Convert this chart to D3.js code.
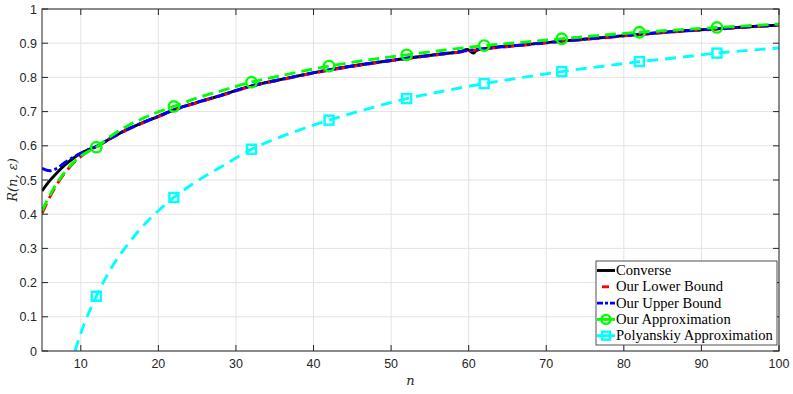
<!DOCTYPE html>
<html>
<head>
<meta charset="utf-8">
<script src="https://cdn.jsdelivr.net/npm/d3@7"></script>
<style>
  html, body { margin: 0; padding: 0; background: #fff; }
  svg { display: block; }
</style>
</head>
<body>
<svg id="chart" width="793" height="394"></svg>
<script>
// ── Datos ──
const nConverse = [5, 6, 7, 8, 9, 10, 11, 12, 14, 16, 18, 20, 22, 25, 28, 32, 36, 42, 47, 52, 57, 59, 59.8, 60.6, 61, 62, 67, 72, 77, 82, 87, 92, 96, 100];
const rConverse = [0.468, 0.498, 0.523, 0.545, 0.563, 0.578, 0.589, 0.598, 0.624, 0.648, 0.668, 0.686, 0.705, 0.727, 0.747, 0.775, 0.795, 0.822, 0.840, 0.856, 0.870, 0.875, 0.882, 0.871, 0.879, 0.884, 0.895, 0.906, 0.916, 0.926, 0.935, 0.942, 0.948, 0.953];

const nBounds = [5, 6, 7, 8, 9, 10, 11, 12, 14, 16, 18, 20, 22, 25, 28, 32, 36, 42, 47, 52, 57, 62, 67, 72, 77, 82, 87, 92, 96, 100];
const rLower  = [0.402, 0.450, 0.490, 0.522, 0.548, 0.568, 0.585, 0.597, 0.623, 0.647, 0.667, 0.685, 0.704, 0.726, 0.746, 0.774, 0.794, 0.821, 0.839, 0.855, 0.869, 0.883, 0.894, 0.905, 0.915, 0.925, 0.934, 0.941, 0.947, 0.952];
const rUpper  = [0.534, 0.527, 0.535, 0.552, 0.566, 0.578, 0.589, 0.598, 0.624, 0.648, 0.668, 0.686, 0.705, 0.727, 0.747, 0.775, 0.795, 0.822, 0.840, 0.856, 0.870, 0.884, 0.895, 0.906, 0.916, 0.926, 0.935, 0.942, 0.948, 0.953];

const nApprox = [5, 6, 7, 8, 9, 10, 12, 14, 16, 18, 20, 22, 25, 28, 32, 36, 42, 47, 52, 57, 62, 67, 72, 77, 82, 87, 92, 96, 100];
const rApprox = [0.410, 0.455, 0.494, 0.525, 0.550, 0.570, 0.596, 0.630, 0.658, 0.680, 0.699, 0.715, 0.740, 0.760, 0.786, 0.806, 0.833, 0.851, 0.866, 0.880, 0.893, 0.903, 0.913, 0.923, 0.932, 0.939, 0.946, 0.951, 0.956];

const nPoly = [9.25, 10, 12, 14, 16, 18, 20, 22, 25, 28, 32, 36, 42, 47, 52, 57, 62, 67, 72, 77, 82, 87, 92, 96, 100];
const rPoly = [0.000, 0.052, 0.160, 0.245, 0.310, 0.365, 0.410, 0.449, 0.497, 0.537, 0.590, 0.628, 0.675, 0.708, 0.738, 0.761, 0.782, 0.800, 0.817, 0.832, 0.846, 0.858, 0.871, 0.879, 0.886];

const markerN = [12, 22, 32, 42, 52, 62, 72, 82, 92];

const xTicks = [10, 20, 30, 40, 50, 60, 70, 80, 90, 100];
const yTicks = [0, 0.1, 0.2, 0.3, 0.4, 0.5, 0.6, 0.7, 0.8, 0.9, 1];

const legendLabels = ["Converse", "Our Lower Bound", "Our Upper Bound", "Our Approximation", "Polyanskiy Approximation"];

// ── Layout ──
const M = { left: 42, right: 14, top: 9, bottom: 43 };
const W = 793, H = 394;
const iw = W - M.left - M.right, ih = H - M.top - M.bottom;

const svg = d3.select("#chart");
const g = svg.append("g").attr("transform", `translate(${M.left},${M.top})`);

const x = d3.scaleLinear().domain([5, 100]).range([0, iw]);
const y = d3.scaleLinear().domain([0, 1]).range([ih, 0]);

const AX = "#262626";
const tickFont = "'Liberation Sans', Arial, sans-serif";
const serif = "'DejaVu Serif', 'Liberation Serif', serif";
const LW = 2.9;

// Rejilla
g.append("g").selectAll("line").data(xTicks).join("line")
  .attr("x1", d => x(d)).attr("x2", d => x(d)).attr("y1", 0).attr("y2", ih)
  .attr("stroke", "#e3e3e3").attr("stroke-width", 1);
g.append("g").selectAll("line").data(yTicks).join("line")
  .attr("x1", 0).attr("x2", iw).attr("y1", d => y(d)).attr("y2", d => y(d))
  .attr("stroke", "#e3e3e3").attr("stroke-width", 1);

svg.append("defs").append("clipPath").attr("id", "clip")
  .append("rect").attr("width", iw).attr("height", ih);

const plot = g.append("g").attr("clip-path", "url(#clip)");

const mkLine = (ns) => d3.line()
  .x((d, i) => x(ns[i])).y(d => y(d))
  .curve(d3.curveMonotoneX);

const series = [
  { ns: nConverse, vs: rConverse, color: "#000000", dash: null },
  { ns: nBounds, vs: rLower, color: "#ff0000", dash: "11,6" },
  { ns: nBounds, vs: rUpper, color: "#0000ff", dash: "10,3,3,3" },
  { ns: nApprox, vs: rApprox, color: "#00ff00", dash: "11,6" },
  { ns: nPoly, vs: rPoly, color: "#00ffff", dash: "11,7" },
];

series.forEach(s => {
  plot.append("path")
    .attr("d", mkLine(s.ns)(s.vs))
    .attr("fill", "none")
    .attr("stroke", s.color)
    .attr("stroke-width", LW)
    .attr("stroke-dasharray", s.dash);
});

// Marcadores
const idxApprox = markerN.map(n => nApprox.indexOf(n));
plot.append("g").selectAll("circle").data(markerN).join("circle")
  .attr("cx", d => x(d)).attr("cy", (d, i) => y(rApprox[idxApprox[i]]))
  .attr("r", 5.2).attr("fill", "none").attr("stroke", "#00ff00").attr("stroke-width", 2.4);

const idxPoly = markerN.map(n => nPoly.indexOf(n));
plot.append("g").selectAll("rect").data(markerN).join("rect")
  .attr("x", d => x(d) - 4.5).attr("y", (d, i) => y(rPoly[idxPoly[i]]) - 4.5)
  .attr("width", 9).attr("height", 9)
  .attr("fill", "none").attr("stroke", "#00ffff").attr("stroke-width", 2.4);

// Ejes (estilo MATLAB, caja con ticks hacia dentro)
const tl = 6;
g.append("rect").attr("width", iw).attr("height", ih)
  .attr("fill", "none").attr("stroke", AX).attr("stroke-width", 1);

g.append("g").selectAll("path").data(xTicks).join("path")
  .attr("d", d => `M${x(d)},${ih}v${-tl}M${x(d)},0v${tl}`)
  .attr("stroke", AX).attr("stroke-width", 1);
g.append("g").selectAll("path").data(yTicks).join("path")
  .attr("d", d => `M0,${y(d)}h${tl}M${iw},${y(d)}h${-tl}`)
  .attr("stroke", AX).attr("stroke-width", 1);

g.append("g").selectAll("text").data(xTicks).join("text")
  .attr("x", d => x(d)).attr("y", ih + 17)
  .attr("text-anchor", "middle")
  .attr("font-family", tickFont).attr("font-size", 12.5).attr("fill", AX)
  .text(d => d);
g.append("g").selectAll("text").data(yTicks).join("text")
  .attr("x", -5).attr("y", d => y(d) + 4.5)
  .attr("text-anchor", "end")
  .attr("font-family", tickFont).attr("font-size", 12.5).attr("fill", AX)
  .text(d => d3.format("~g")(d));

// Etiquetas de ejes
svg.append("text")
  .attr("x", M.left + iw / 2).attr("y", 385)
  .attr("text-anchor", "middle")
  .attr("font-family", serif).attr("font-style", "italic").attr("font-size", 13)
  .attr("fill", AX).text("n");

svg.append("text")
  .attr("transform", `translate(17,${M.top + ih / 2}) rotate(-90)`)
  .attr("text-anchor", "middle")
  .attr("font-family", serif).attr("font-style", "italic").attr("font-size", 13)
  .attr("fill", AX).text("R(n, ε)");

// ── Leyenda ──
const lg = svg.append("g").attr("transform", "translate(596,261)");
lg.append("rect").attr("width", 181).attr("height", 84)
  .attr("fill", "#fff").attr("stroke", "#262626").attr("stroke-width", 0.8);

const rowY = i => 9.5 + i * 16.3;
const legendDash = [null, null, "6,2,3,2", null, null];
legendLabels.forEach((lab, i) => {
  const s = series[i];
  const row = lg.append("g").attr("transform", `translate(0,${rowY(i)})`);
  if (i === 1) {
    row.append("line").attr("x1", 6).attr("x2", 13).attr("stroke", s.color).attr("stroke-width", LW);
  } else {
    row.append("line").attr("x1", 1).attr("x2", 19)
      .attr("stroke", s.color).attr("stroke-width", LW)
      .attr("stroke-dasharray", legendDash[i]);
  }
  if (i === 3) {
    row.append("circle").attr("cx", 10).attr("r", 4.5)
      .attr("fill", "none").attr("stroke", s.color).attr("stroke-width", 2.4);
  }
  if (i === 4) {
    row.append("rect").attr("x", 6).attr("y", -4).attr("width", 8).attr("height", 8)
      .attr("fill", "none").attr("stroke", s.color).attr("stroke-width", 2.4);
  }
  row.append("text").attr("x", 20).attr("y", 4.5)
    .attr("font-family", "'Liberation Serif', 'DejaVu Serif', serif").attr("font-size", 14.6)
    .attr("fill", "#000").text(lab);
});
</script>
</body>
</html>
